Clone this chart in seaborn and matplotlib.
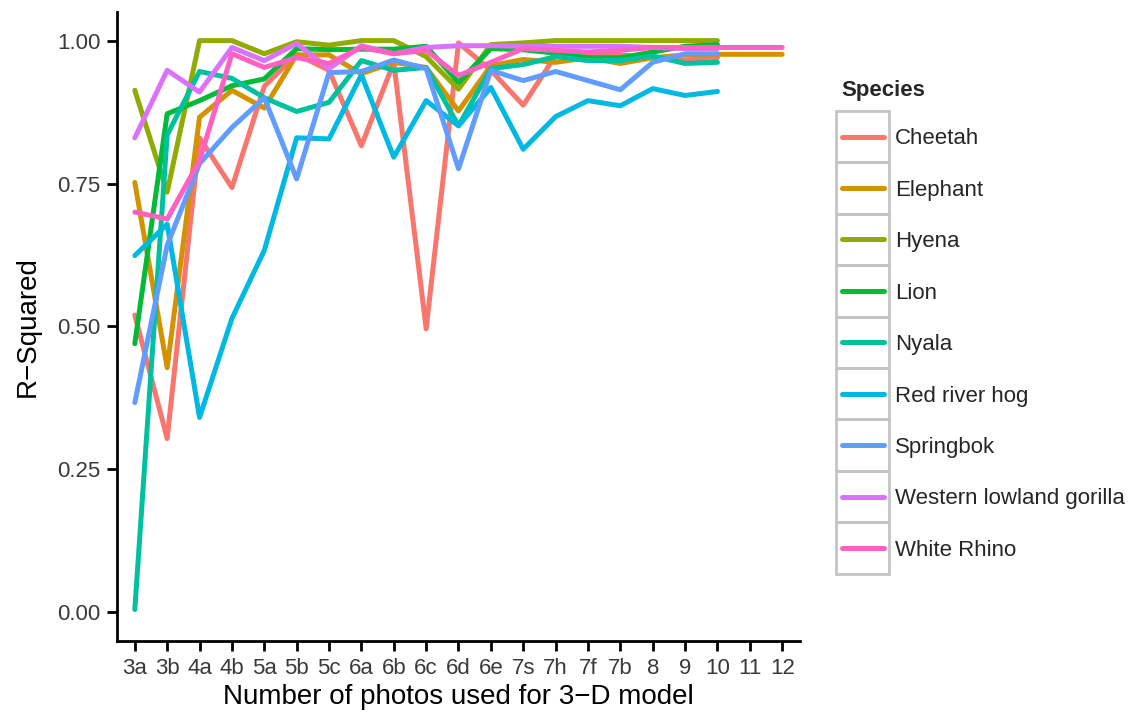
import numpy as np
import pandas as pd
import matplotlib
matplotlib.use("Agg")
import matplotlib.pyplot as plt
from matplotlib.patches import Rectangle
import seaborn as sns

categories = ["3a", "3b", "4a", "4b", "5a", "5b", "5c", "6a", "6b", "6c", "6d",
              "6e", "7s", "7h", "7f", "7b", "8", "9", "10", "11", "12"]

species = ["Cheetah", "Elephant", "Hyena", "Lion", "Nyala", "Red river hog",
           "Springbok", "Western lowland gorilla", "White Rhino"]

cheetah = [0.52, 0.304, 0.83, 0.743, 0.92, 0.976, 0.948, 0.816, 0.962, 0.496, 0.996,
           0.948, 0.887, 0.974, 0.976, 0.975, 0.97, 0.966, 0.97]
elephant = [0.752, 0.428, 0.866, 0.913, 0.882, 0.975, 0.975, 0.942, 0.962, 0.953, 0.877,
            0.956, 0.967, 0.962, 0.97, 0.96, 0.97, 0.975, 0.976, 0.976, 0.976]
hyena = [0.913, 0.735, 1.0, 1.0, 0.977, 0.998, 0.992, 1.0, 1.0, 0.972, 0.915,
         0.993, 0.996, 1.0, 1.0, 1.0, 1.0, 1.0, 1.0]
lion = [0.47, 0.872, 0.895, 0.921, 0.933, 0.986, 0.984, 0.985, 0.985, 0.99, 0.927,
        0.986, 0.984, 0.978, 0.97, 0.97, 0.98, 0.99, 0.993]
nyala = [0.005, 0.835, 0.946, 0.934, 0.9, 0.876, 0.892, 0.965, 0.948, 0.953, 0.851,
         0.951, 0.958, 0.972, 0.965, 0.965, 0.973, 0.96, 0.962]
red_river_hog = [0.624, 0.679, 0.341, 0.514, 0.633, 0.83, 0.828, 0.94, 0.796, 0.895, 0.851,
                 0.918, 0.81, 0.867, 0.895, 0.886, 0.916, 0.904, 0.911]
springbok = [0.367, 0.642, 0.785, 0.848, 0.9, 0.758, 0.944, 0.946, 0.966, 0.951, 0.776,
             0.948, 0.93, 0.946, 0.93, 0.914, 0.962, 0.977, 0.977]
gorilla = [0.83, 0.948, 0.91, 0.988, 0.965, 0.995, 0.951, 0.991, 0.977, 0.988, 0.991,
           0.991, 0.99, 0.99, 0.99, 0.99, 0.988, 0.986, 0.986]
white_rhino = [0.70, 0.688, 0.79, 0.977, 0.953, 0.97, 0.96, 0.988, 0.977, 0.983, 0.939,
               0.962, 0.986, 0.983, 0.98, 0.983, 0.988, 0.988, 0.988, 0.988, 0.988]

series = [cheetah, elephant, hyena, lion, nyala, red_river_hog, springbok, gorilla, white_rhino]

palette = ["#F8766D", "#D39200", "#93AA00", "#00BA38", "#00C19F",
           "#00B9E3", "#619CFF", "#DB72FB", "#FF61C3"]

rows = []
for sp, vals in zip(species, series):
    for cat, v in zip(categories, vals):
        rows.append({"Photos": cat, "R2": v, "Species": sp})
df = pd.DataFrame(rows)
df["Photos"] = pd.Categorical(df["Photos"], categories=categories, ordered=True)
df["xi"] = df["Photos"].cat.codes

sns.set_theme(style="white")
plt.rcParams["font.family"] = ["Liberation Sans", "DejaVu Sans"]

fig = plt.figure(figsize=(11.29, 7.15), dpi=100)
ax = fig.add_axes([117 / 1129, 74 / 715, (800 - 117) / 1129, (703 - 74) / 715])

sns.lineplot(data=df, x="xi", y="R2", hue="Species", hue_order=species,
             palette=palette, linewidth=3.6, sort=True, estimator=None, ax=ax)

ax.set_xlim(-0.55, len(categories) - 0.45)
ax.set_ylim(-0.05, 1.05)
ax.set_xticks(range(len(categories)))
ax.set_xticklabels(categories)
ax.set_yticks([0, 0.25, 0.5, 0.75, 1.0])
ax.set_yticklabels(["0.00", "0.25", "0.50", "0.75", "1.00"])
ax.set_xlabel("Number of photos used for 3\u2212D model", fontsize=20, color="black", labelpad=4)
ax.set_ylabel("R\u2212Squared", fontsize=20, color="black", labelpad=12)
ax.tick_params(axis="both", which="major", labelsize=16, colors="black",
               labelcolor="#3a3a3a", length=7, width=2, direction="out",
               bottom=True, left=True, pad=5)
for side in ["top", "right"]:
    ax.spines[side].set_visible(False)
for side in ["left", "bottom"]:
    ax.spines[side].set_color("black")
    ax.spines[side].set_linewidth(2)
ax.grid(False)

sns.move_legend(ax, "upper left", bbox_to_anchor=(826 / 1129, 1 - 64 / 715),
                bbox_transform=fig.transFigure, frameon=False, title="Species",
                fontsize=16, title_fontsize=16, handlelength=1.9, handletextpad=0.5,
                labelspacing=1.37, borderpad=0.2)
leg = ax.get_legend()
leg.get_title().set_fontweight("bold")
leg._legend_box.align = "left"
leg._legend_box.sep = 20
for line in leg.get_lines():
    line.set_linewidth(3.6)

fig.canvas.draw()
renderer = fig.canvas.get_renderer()
W, H = fig.bbox.width, fig.bbox.height
lines = leg.get_lines()
cys = []
for line in lines:
    bb = line.get_window_extent(renderer)
    cys.append((bb.y0 + bb.y1) / 2)
step = abs(cys[0] - cys[1]) if len(cys) > 1 else 51
bb0 = lines[0].get_window_extent(renderer)
bx0 = bb0.x0 - 6
bw = bb0.width + 11
for cy in cys:
    r = Rectangle((bx0 / W, (cy - step / 2) / H), bw / W, step / H,
                  transform=fig.transFigure, fill=False, edgecolor="#c4c4c4",
                  linewidth=2, zorder=5)
    fig.add_artist(r)

fig.savefig("out.png", dpi=100)
